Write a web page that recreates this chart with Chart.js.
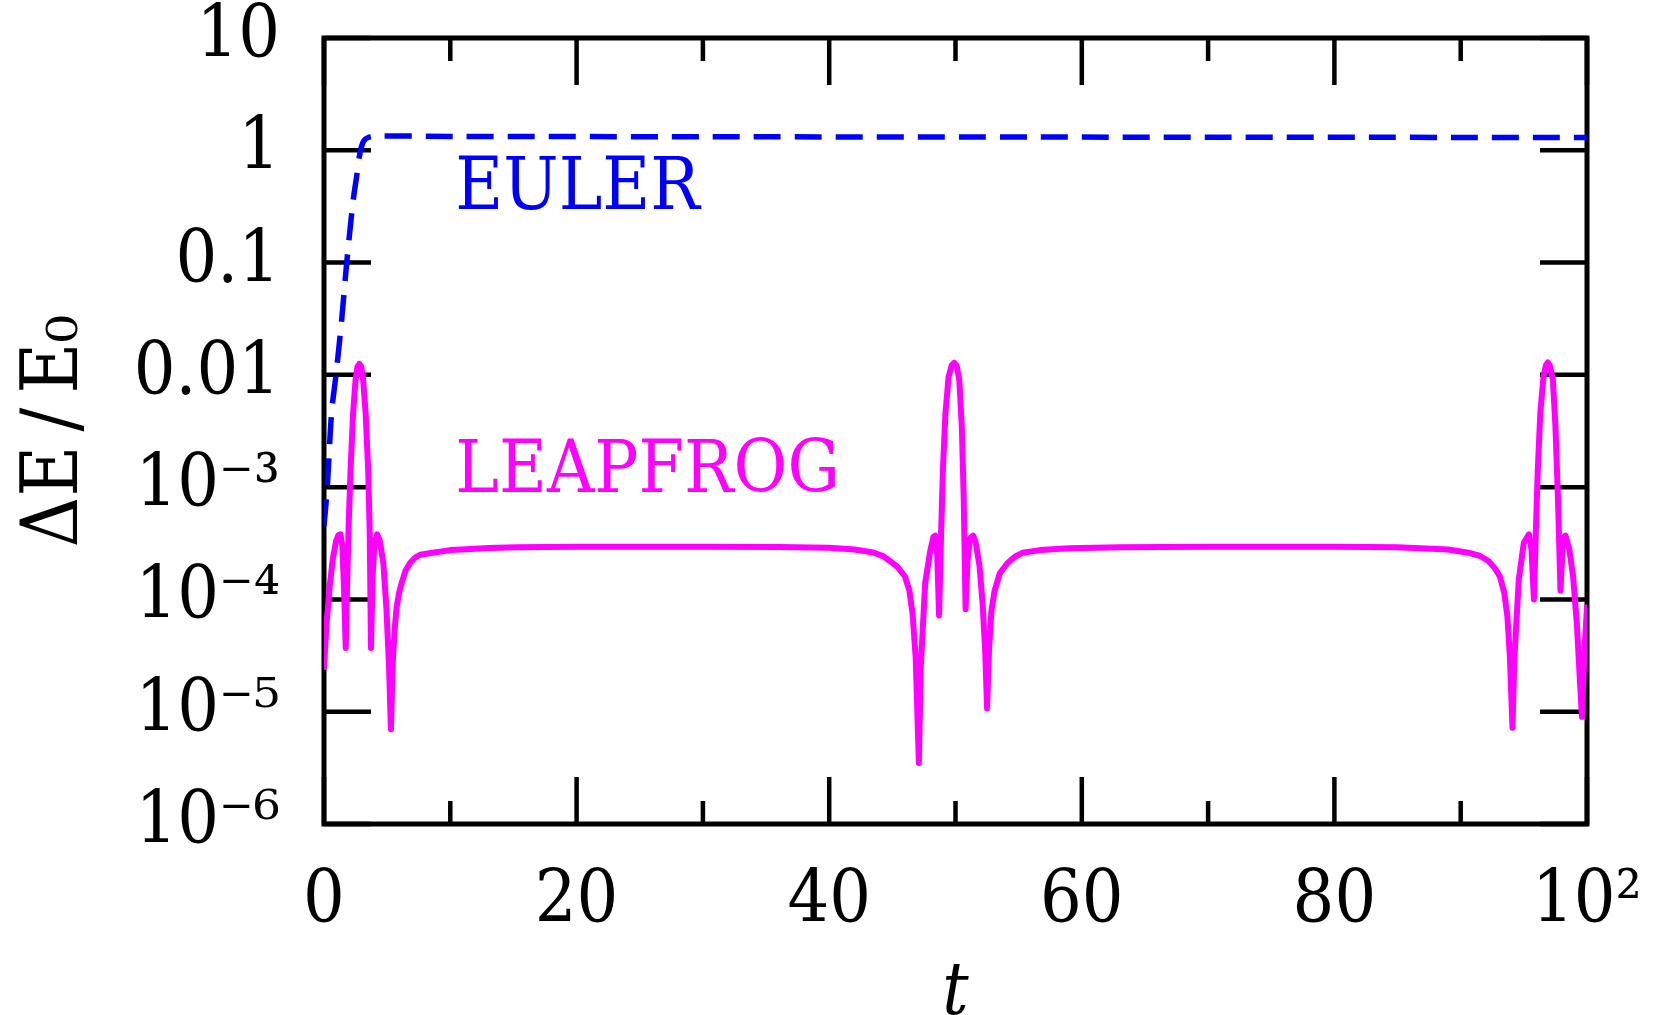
<!DOCTYPE html>
<html>
<head>
<meta charset="utf-8">
<script src="https://cdn.jsdelivr.net/npm/chart.js@4.4.1/dist/chart.umd.min.js"></script>
<style>
  html, body { margin: 0; padding: 0; background: #fff; }
  #energy { display: block; }
</style>
</head>
<body>
<canvas id="energy" width="1657" height="1015"></canvas>
<script>
// leapfrog energy error
const leapT = [0, 0.2, 0.45, 0.7, 0.95, 1.15, 1.3, 1.45, 1.58, 1.72, 1.82, 1.95, 2.1, 2.3, 2.5, 2.65, 2.8, 2.95, 3.1, 3.3, 3.5, 3.62, 3.72, 3.85, 4.0, 4.2, 4.4, 4.7, 4.95, 5.15, 5.3, 5.44, 5.6, 5.75, 5.95, 6.15, 6.45, 6.8, 7.2, 7.6, 8.6, 10, 11.3, 13, 15.3, 20, 30, 36, 40, 42, 43.5, 44.3, 44.8, 45.4, 46.0, 46.35, 46.6, 46.85, 47.1, 47.25, 47.6, 48.0, 48.25, 48.4, 48.55, 48.7, 48.85, 49.0, 49.2, 49.45, 49.7, 49.9, 50.1, 50.3, 50.5, 50.65, 50.8, 50.95, 51.15, 51.4, 51.6, 51.9, 52.15, 52.35, 52.5, 52.65, 52.85, 53.1, 53.5, 54.1, 54.7, 55.3, 56.7, 59, 63, 70, 80, 85, 89, 90.5, 91.5, 92.2, 92.7, 93.1, 93.45, 93.7, 93.9, 94.1, 94.25, 94.6, 95.0, 95.4, 95.6, 95.8, 95.95, 96.1, 96.3, 96.55, 96.75, 96.9, 97.05, 97.3, 97.5, 97.7, 97.9, 98.1, 98.3, 98.6, 98.9, 99.2, 99.45, 99.6, 99.8, 100];
const leapE = [2.5e-5, 6.0e-5, 1.3e-4, 2.3e-4, 3.3e-4, 3.75e-4, 3.8e-4, 3.0e-4, 1.3e-4, 3.7e-5, 1.2e-4, 4.5e-4, 1.4e-3, 4.5e-3, 9.0e-3, 1.18e-2, 1.25e-2, 1.18e-2, 9.0e-3, 4.5e-3, 1.4e-3, 4.0e-4, 3.7e-5, 1.6e-4, 3.2e-4, 3.8e-4, 3.4e-4, 2.1e-4, 8.0e-5, 2.5e-5, 7.0e-6, 2.7e-5, 5.5e-5, 8.5e-5, 1.15e-4, 1.4e-4, 1.8e-4, 2.1e-4, 2.35e-4, 2.5e-4, 2.6e-4, 2.75e-4, 2.8e-4, 2.87e-4, 2.92e-4, 2.95e-4, 2.95e-4, 2.93e-4, 2.88e-4, 2.78e-4, 2.62e-4, 2.42e-4, 2.2e-4, 1.95e-4, 1.6e-4, 1.2e-4, 7.5e-5, 3.0e-5, 3.5e-6, 2.5e-5, 1.4e-4, 2.7e-4, 3.6e-4, 3.7e-4, 2.5e-4, 7.2e-5, 3.5e-4, 1.4e-3, 4.5e-3, 9.5e-3, 1.22e-2, 1.28e-2, 1.2e-2, 9.0e-3, 3.5e-3, 8.0e-4, 8.2e-5, 2.2e-4, 3.5e-4, 3.7e-4, 3.2e-4, 2.0e-4, 9.0e-5, 3.5e-5, 1.07e-5, 3.5e-5, 8.0e-5, 1.2e-4, 1.7e-4, 2.1e-4, 2.4e-4, 2.6e-4, 2.75e-4, 2.85e-4, 2.92e-4, 2.95e-4, 2.95e-4, 2.92e-4, 2.78e-4, 2.62e-4, 2.45e-4, 2.2e-4, 1.9e-4, 1.6e-4, 1.15e-4, 7.0e-5, 3.0e-5, 7.2e-6, 3.0e-5, 1.5e-4, 3.2e-4, 3.8e-4, 2.8e-4, 1.0e-4, 4.0e-4, 1.4e-3, 4.5e-3, 9.5e-3, 1.22e-2, 1.29e-2, 1.22e-2, 9.0e-3, 3.5e-3, 8.0e-4, 1.2e-4, 3.5e-4, 3.7e-4, 2.8e-4, 1.6e-4, 6.0e-5, 1.8e-5, 9.0e-6, 3.5e-5, 8.5e-5];

// euler energy error
const eulerT = [0, 0.26, 0.6, 0.95, 1.4, 1.8, 2.3, 2.6, 2.85, 3.05, 3.25, 3.5, 3.9, 4.5, 6, 10, 30, 60, 100];
const eulerE = [4.5e-4, 1e-3, 4.6e-3, 0.01, 0.031, 0.1, 0.35, 0.6, 0.95, 1.15, 1.25, 1.3, 1.33, 1.34, 1.34, 1.33, 1.32, 1.31, 1.3];

const xMajorTicks = [0, 20, 40, 60, 80, 100];
const xTickLabels = ['0', '20', '40', '60', '80', '10²'];
const xMinorTicks = [10, 30, 50, 70, 90];
const yTickValues = [1e-6, 1e-5, 1e-4, 1e-3, 0.01, 0.1, 1, 10];
const yTickLabels = ['10⁻⁶', '10⁻⁵', '10⁻⁴', '10⁻³', '0.01', '0.1', '1', '10'];
const seriesLabels = ['EULER', 'LEAPFROG'];
const seriesColors = ['#0000ff', '#ff00ff'];

const FONT = "'DejaVu Serif Condensed', 'DejaVu Serif', serif";
const FSIZE = 73;

// box with inward ticks on all four sides + in-plot labels
const frameTicks = {
    id: 'frameTicks',
    beforeDatasetsDraw(chart) {
        const { ctx, chartArea: a, scales: { x, y } } = chart;
        ctx.save();
        ctx.strokeStyle = '#000';
        ctx.lineWidth = 4.5;
        ctx.beginPath();
        yTickValues.forEach(v => {
            const py = y.getPixelForValue(v);
            ctx.moveTo(a.left, py); ctx.lineTo(a.left + 47, py);
            ctx.moveTo(a.right, py); ctx.lineTo(a.right - 47, py);
        });
        xMajorTicks.forEach(v => {
            const px = x.getPixelForValue(v);
            ctx.moveTo(px, a.bottom); ctx.lineTo(px, a.bottom - 47);
            ctx.moveTo(px, a.top); ctx.lineTo(px, a.top + 47);
        });
        xMinorTicks.forEach(v => {
            const px = x.getPixelForValue(v);
            ctx.moveTo(px, a.bottom); ctx.lineTo(px, a.bottom - 23);
            ctx.moveTo(px, a.top); ctx.lineTo(px, a.top + 23);
        });
        ctx.stroke();
        ctx.lineWidth = 5;
        ctx.strokeRect(a.left, a.top, a.right - a.left, a.bottom - a.top);
        ctx.restore();
    },
    afterDatasetsDraw(chart) {
        const { ctx, scales: { x, y } } = chart;
        ctx.save();
        ctx.font = `${FSIZE}px ${FONT}`;
        ctx.textBaseline = 'alphabetic';
        ctx.textAlign = 'left';
        ctx.fillStyle = seriesColors[0];
        ctx.fillText(seriesLabels[0], x.getPixelForValue(10.4), y.getPixelForValue(0.30));
        ctx.fillStyle = seriesColors[1];
        ctx.fillText(seriesLabels[1], x.getPixelForValue(10.4), y.getPixelForValue(9.0e-4));
        ctx.restore();
    }
};

const toPoints = (ts, vs) => ts.map((t, i) => ({ x: t, y: vs[i] }));

new Chart(document.getElementById('energy'), {
    type: 'line',
    data: {
        datasets: [{
            label: seriesLabels[0],
            data: toPoints(eulerT, eulerE),
            borderColor: seriesColors[0],
            borderWidth: 5.5,
            borderDash: [27, 14],
            pointRadius: 0,
            tension: 0.3,
            fill: false
        }, {
            label: seriesLabels[1],
            data: toPoints(leapT, leapE),
            borderColor: seriesColors[1],
            borderWidth: 6,
            borderJoinStyle: 'round',
            borderCapStyle: 'round',
            pointRadius: 0,
            tension: 0,
            fill: false
        }]
    },
    options: {
        responsive: false,
        animation: false,
        devicePixelRatio: 1,
        layout: { padding: { top: 38, right: 70, left: 0, bottom: 0 } },
        plugins: {
            legend: { display: false },
            tooltip: { enabled: false }
        },
        scales: {
            x: {
                type: 'linear',
                min: 0,
                max: 100,
                grid: { display: false, drawTicks: false },
                border: { display: false },
                afterBuildTicks: s => { s.ticks = xMajorTicks.map(v => ({ value: v })); },
                afterFit: s => { s.height = 191; s.paddingLeft = 0; s.paddingRight = 0; },
                ticks: {
                    autoSkip: false,
                    maxRotation: 0,
                    padding: 43,
                    color: '#000',
                    font: { family: FONT, size: FSIZE, lineHeight: 1 },
                    callback: (v, i) => xTickLabels[i]
                },
                title: {
                    display: true,
                    text: 't',
                    color: '#000',
                    font: { family: FONT, size: FSIZE, style: 'italic', lineHeight: 1 },
                    padding: { top: 0, bottom: -17 }
                }
            },
            y: {
                type: 'logarithmic',
                min: 1e-6,
                max: 10,
                grid: { display: false, drawTicks: false },
                border: { display: false },
                afterBuildTicks: s => { s.ticks = yTickValues.map(v => ({ value: v })); },
                afterFit: s => { s.width = 324; s.paddingTop = 0; s.paddingBottom = 0; },
                ticks: {
                    autoSkip: false,
                    padding: 44,
                    color: '#000',
                    font: { family: FONT, size: FSIZE, lineHeight: 1 },
                    callback: (v, i) => yTickLabels[i]
                },
                title: {
                    display: true,
                    text: 'ΔE\u2009/\u2009E₀',
                    color: '#000',
                    font: { family: FONT, size: 78, lineHeight: 1 },
                    padding: { top: 18, bottom: 0 }
                }
            }
        }
    },
    plugins: [frameTicks]
});
</script>
</body>
</html>
